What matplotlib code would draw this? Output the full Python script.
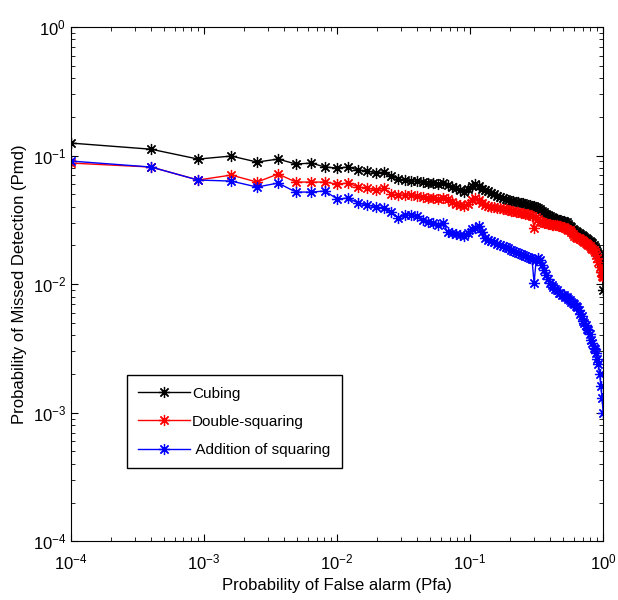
import numpy as np
import matplotlib
matplotlib.use('Agg')
import matplotlib.pyplot as plt

plt.rcParams['font.family'] = ['Liberation Sans', 'DejaVu Sans']
plt.rcParams['mathtext.fontset'] = 'custom'
plt.rcParams['mathtext.rm'] = 'Liberation Sans'
plt.rcParams['axes.unicode_minus'] = False

pfa = [0.0001, 0.0004, 0.0009, 0.0016, 0.0025, 0.0036, 0.0049, 0.0064, 0.0081, 0.01,
       0.0121, 0.0144, 0.0169, 0.0196, 0.0225, 0.0256, 0.0289, 0.0324, 0.0361, 0.04,
       0.0441, 0.0484, 0.0529, 0.0576, 0.0625, 0.0676, 0.0729, 0.0784, 0.0841, 0.09,
       0.0961, 0.1024, 0.1089, 0.1156, 0.1225, 0.1296, 0.1369, 0.1444, 0.1521, 0.16,
       0.1681, 0.1764, 0.1849, 0.1936, 0.2025, 0.2116, 0.2209, 0.2304, 0.2401, 0.25,
       0.2601, 0.2704, 0.2809, 0.2916, 0.3025, 0.3136, 0.3249, 0.3364, 0.3481, 0.36,
       0.3721, 0.3844, 0.3969, 0.4096, 0.4225, 0.4356, 0.4489, 0.4624, 0.4761, 0.49,
       0.5041, 0.5184, 0.5329, 0.5476, 0.5625, 0.5776, 0.5929, 0.6084, 0.6241, 0.64,
       0.6561, 0.6724, 0.6889, 0.7056, 0.7225, 0.7396, 0.7569, 0.7744, 0.7921, 0.81,
       0.8281, 0.8464, 0.8649, 0.8836, 0.9025, 0.9216, 0.9409, 0.9604, 0.9801, 1.0]

cubing = [0.125, 0.112, 0.0939, 0.0991, 0.0890, 0.0939, 0.0859, 0.0874, 0.0814, 0.0800,
          0.0814, 0.0771, 0.0758, 0.0731, 0.0744, 0.0693, 0.0656, 0.0645, 0.0633, 0.0633,
          0.0622, 0.0611, 0.0611, 0.0600, 0.0611, 0.0590, 0.0569, 0.0559, 0.0539, 0.0520,
          0.0549, 0.0579, 0.0600, 0.0579, 0.0549, 0.0539, 0.0530, 0.0511, 0.0502, 0.0484,
          0.0476, 0.0467, 0.0459, 0.0451, 0.0443, 0.0443, 0.0435, 0.0435, 0.0427, 0.0427,
          0.0420, 0.0412, 0.0412, 0.0405, 0.0405, 0.0398, 0.0391, 0.0384, 0.0370, 0.0364,
          0.0351, 0.0345, 0.0339, 0.0333, 0.0327, 0.0321, 0.0321, 0.0315, 0.0315, 0.0310,
          0.0310, 0.0304, 0.0304, 0.0293, 0.0283, 0.0278, 0.0268, 0.0263, 0.0259, 0.0254,
          0.0250, 0.0245, 0.0241, 0.0237, 0.0232, 0.0228, 0.0224, 0.0220, 0.0216, 0.0213,
          0.0209, 0.0201, 0.0194, 0.0184, 0.0178, 0.0171, 0.0165, 0.0149, 0.0125, 0.0090]

double_sq = [0.0874, 0.0814, 0.0645, 0.0705, 0.0622, 0.0718, 0.0622, 0.0622, 0.0622, 0.0600,
             0.0611, 0.0569, 0.0559, 0.0539, 0.0559, 0.0502, 0.0493, 0.0493, 0.0493, 0.0484,
             0.0476, 0.0467, 0.0467, 0.0459, 0.0467, 0.0459, 0.0435, 0.0420, 0.0412, 0.0405,
             0.0420, 0.0451, 0.0467, 0.0451, 0.0427, 0.0412, 0.0405, 0.0398, 0.0398, 0.0391,
             0.0391, 0.0384, 0.0384, 0.0377, 0.0370, 0.0370, 0.0364, 0.0364, 0.0357, 0.0357,
             0.0351, 0.0351, 0.0345, 0.0339, 0.0273, 0.0333, 0.0321, 0.0310, 0.0304, 0.0299,
             0.0299, 0.0293, 0.0293, 0.0288, 0.0288, 0.0288, 0.0288, 0.0283, 0.0283, 0.0278,
             0.0278, 0.0273, 0.0268, 0.0263, 0.0263, 0.0254, 0.0245, 0.0237, 0.0232, 0.0228,
             0.0228, 0.0224, 0.0220, 0.0216, 0.0213, 0.0209, 0.0205, 0.0201, 0.0198, 0.0191,
             0.0188, 0.0184, 0.0178, 0.0168, 0.0160, 0.0149, 0.0136, 0.0125, 0.0116, 0.0114]

addition_sq = [0.0906, 0.0814, 0.0645, 0.0633, 0.0569, 0.0611, 0.0520, 0.0520, 0.0530, 0.0459,
               0.0467, 0.0427, 0.0412, 0.0398, 0.0391, 0.0364, 0.0327, 0.0345, 0.0345, 0.0339,
               0.0315, 0.0304, 0.0299, 0.0288, 0.0299, 0.0254, 0.0250, 0.0245, 0.0241, 0.0237,
               0.0250, 0.0268, 0.0273, 0.0283, 0.0254, 0.0228, 0.0220, 0.0216, 0.0213, 0.0205,
               0.0201, 0.0198, 0.0194, 0.0191, 0.0184, 0.0181, 0.0178, 0.0175, 0.0171, 0.0168,
               0.0165, 0.0162, 0.0160, 0.0157, 0.0102, 0.0154, 0.0160, 0.0154, 0.0141, 0.0129,
               0.0118, 0.0110, 0.0102, 0.0098, 0.0095, 0.0091, 0.0090, 0.0086, 0.0085, 0.0083,
               0.0082, 0.0080, 0.0079, 0.0076, 0.0075, 0.0072, 0.0071, 0.0070, 0.0067, 0.0066,
               0.0063, 0.0059, 0.0056, 0.0052, 0.0050, 0.0048, 0.0045, 0.0044, 0.0041, 0.0037,
               0.0035, 0.0032, 0.0031, 0.0029, 0.0026, 0.0024, 0.0020, 0.0016, 0.0013, 0.0010]

fig = plt.figure(figsize=(6.18, 6.0), dpi=100)
ax = fig.add_axes([0.115, 0.098, 0.861, 0.857])

star = (8, 2, 0)
ax.loglog(pfa, cubing, color='k', marker=star, markersize=8, mew=0.9, lw=1, label='Cubing')
ax.loglog(pfa, double_sq, color='r', marker=star, markersize=8, mew=0.9, lw=1, label='Double-squaring')
ax.loglog(pfa, addition_sq, color='b', marker=star, markersize=8, mew=0.9, lw=1, label=' Addition of squaring')

ax.set_xlim(1e-4, 1)
ax.set_ylim(1e-4, 1)
ax.tick_params(which='both', direction='in', top=True, right=True, labelsize=12)
ax.tick_params(which='major', length=5)
ax.tick_params(which='minor', length=3)
ax.tick_params(axis='x', pad=8)

ax.set_xlabel('Probability of False alarm (Pfa)', fontsize=12)
ax.set_ylabel('Probability of Missed Detection (Pmd)', fontsize=12)

leg = ax.legend(loc='upper left', bbox_to_anchor=(0.105, 0.323), borderaxespad=0,
                fontsize=11, handlelength=3.4, fancybox=False, framealpha=1,
                edgecolor='k', borderpad=0.75, labelspacing=0.93, handletextpad=0.1)
leg.get_frame().set_linewidth(1)

fig.savefig('out.png', dpi=100)
